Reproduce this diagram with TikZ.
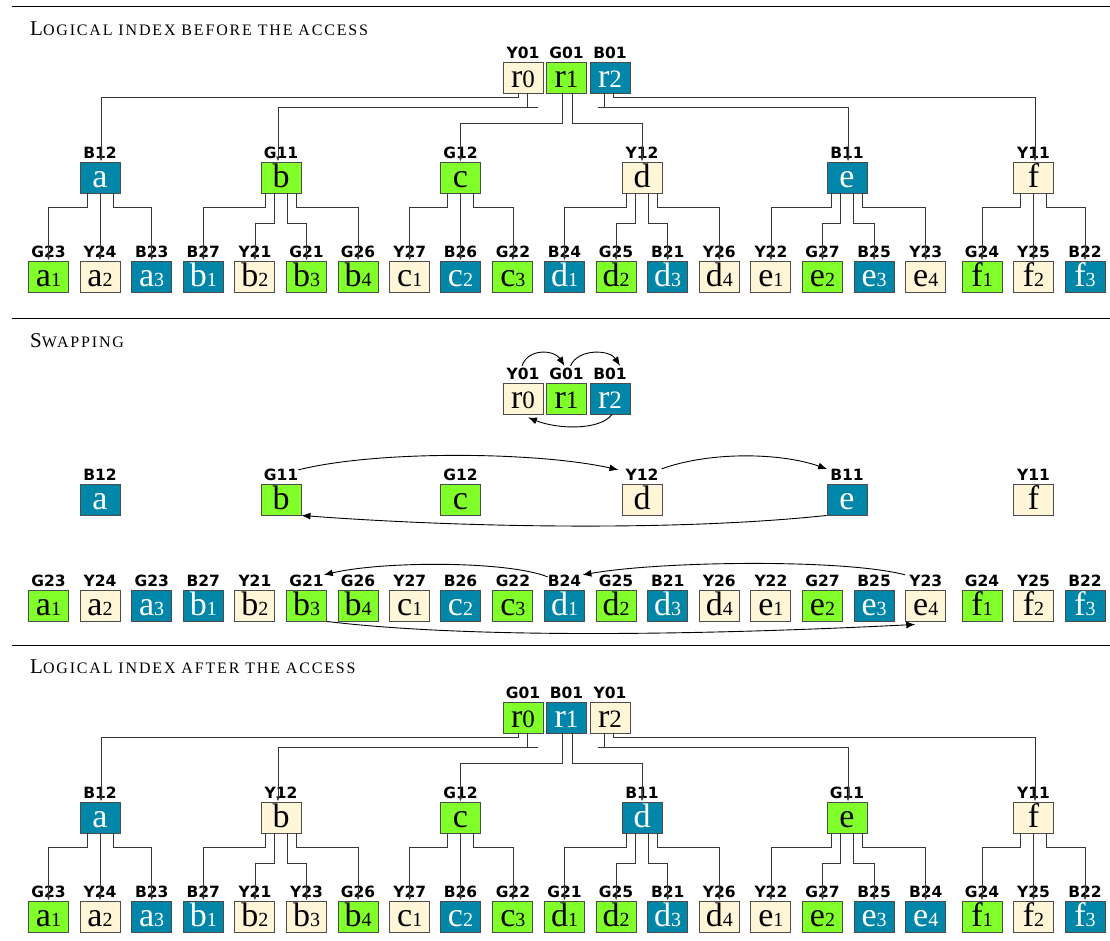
\documentclass[tikz,border=0pt]{standalone}
\usepackage{fontspec}
\setmainfont{Liberation Serif}
\newfontfamily\tagfont{DejaVu Sans}
\newfontfamily\headfont[LetterSpace=11.5]{Liberation Serif}
\usetikzlibrary{arrows.meta}

\definecolor{cellB}{RGB}{0,134,168}
\definecolor{cellG}{RGB}{128,255,42}
\definecolor{cellY}{RGB}{255,246,215}
\colorlet{txtB}{white}
\colorlet{txtG}{black}
\colorlet{txtY}{black}
\definecolor{edgegray}{RGB}{55,55,55}

\tikzset{
  cellbox/.style={draw=black!70, line width=0.9pt, minimum width=40pt, minimum height=31pt,
    inner sep=0pt, text height=25pt, text depth=6pt, font=\fontsize{34}{34}\selectfont},
  tag/.style={font=\tagfont\bfseries\fontsize{15.5}{15.5}\selectfont, inner sep=0pt, anchor=base},
  tree/.style={draw=edgegray, line width=0.8pt, -{Latex[length=5pt,width=4pt]}},
  treeplain/.style={draw=edgegray, line width=0.8pt},
  swap/.style={draw=black, line width=0.9pt, -{Latex[length=9pt,width=7pt]}},
  rule/.style={line width=1.2pt},
  title/.style={anchor=base west, inner sep=0pt},
}

% small digit after a letter (leaves) and root digit
\newcommand\sdig[1]{{\fontsize{20}{20}\selectfont #1}}
\newcommand\rdig[1]{{\fontsize{25}{25}\selectfont #1}}
% small capitals made from two sizes of spaced capitals
\newcommand\scap[2]{{\headfont\fontsize{21}{21}\selectfont #1\fontsize{16}{16}\selectfont #2}}

% one coloured cell with its tag above: name, position, colour key, text, tag
\newcommand\cell[5]{%
  \node[cellbox, fill=cell#3, text=txt#3] (#1) at (#2) {#4};
  \node[tag] (#1-t) at ([yshift=3pt]#1.north) {#5};}

% edges from the root block to the six inner nodes
\newcommand\rootedges[1]{%
  \draw[tree] ([xshift=-5pt]#1r0.south) -- ++(0,4) -| ([xshift=1pt]#1a.north);
  \draw[treeplain] ([xshift=4pt]#1r0.south) -- ++(0,14);
  \draw[tree] ([xshift=15pt,yshift=-14pt]#1r0.south) -| ([xshift=-3pt]#1b.north);
  \draw[tree] ([xshift=-4.5pt]#1r1.south) -- ++(0,30) -| (#1c.north);
  \draw[tree] ([xshift=5.5pt]#1r1.south) -- ++(0,30) -| (#1d.north);
  \draw[treeplain] ([xshift=-6pt]#1r2.south) -- ++(0,14);
  \draw[tree] ([xshift=-12pt,yshift=-14pt]#1r2.south) -| ([xshift=1pt]#1e.north);
  \draw[tree] ([xshift=3pt]#1r2.south) -- ++(0,4) -| ([xshift=1.5pt]#1f.north);}

% inner node with three leaves
\newcommand\threekids[2]{%
  \draw[tree] ([xshift=-13pt]#1#2.south) -- ++(0,14) -| (#1#21.north);
  \draw[tree] (#1#2.south) -- (#1#2.south |- #1#22.north);
  \draw[tree] ([xshift=13pt]#1#2.south) -- ++(0,14) -| (#1#23.north);}

% inner node with four leaves
\newcommand\fourkids[2]{%
  \draw[tree] ([xshift=-16pt]#1#2.south) -- ++(0,14) -| (#1#21.north);
  \draw[tree] ([xshift=-7pt]#1#2.south) -- ++(0,30) -| (#1#22.north);
  \draw[tree] ([xshift=6pt]#1#2.south) -- ++(0,30) -| (#1#23.north);
  \draw[tree] ([xshift=15pt]#1#2.south) -- ++(0,14) -| (#1#24.north);}

\begin{document}
\begin{tikzpicture}[x=1pt, y=-1pt]
\useasboundingbox (0,0) rectangle (1110,940);

% section rules and headings
\draw[rule] (12,6.5) -- (1110,6.5);
\draw[rule] (12,318.5) -- (1110,318.5);
\draw[rule] (12,645.5) -- (1110,645.5);
\node[title] (head1) at (30,35) {\scap{L}{OGICAL INDEX BEFORE THE ACCESS}};
\node[title] (head2) at (30,347) {\scap{S}{WAPPING}};
\node[title] (head3) at (30,673) {\scap{L}{OGICAL INDEX AFTER THE ACCESS}};

% ---------- index before the access ----------
\foreach \nm/\px/\col/\tg/\dg in {r0/523/Y/Y01/0, r1/566.5/G/G01/1, r2/610/B/B01/2}
  {\cell{p\nm}{\px,77.5}{\col}{r\rdig{\dg}}{\tg}}
\foreach \nm/\px/\col/\tg in {a/100/B/B12, b/281/G/G11, c/460.5/G/G12, d/642/Y/Y12, e/847/B/B11, f/1033.5/Y/Y11}
  {\cell{p\nm}{\px,177.5}{\col}{\nm}{\tg}}
\foreach \ltr/\dg/\px/\col/\tg in {
    a/1/48.5/G/G23, a/2/100/Y/Y24, a/3/151.7/B/B23,
    b/1/203.3/B/B27, b/2/254.9/Y/Y21, b/3/306.5/G/G21, b/4/358.1/G/G26,
    c/1/409.7/Y/Y27, c/2/460.5/B/B26, c/3/512.9/G/G22,
    d/1/564.5/B/B24, d/2/616.1/G/G25, d/3/667.7/B/B21, d/4/719.3/Y/Y26,
    e/1/770.9/Y/Y22, e/2/822.5/G/G27, e/3/874.1/B/B25, e/4/925.7/Y/Y23,
    f/1/982/G/G24, f/2/1033.5/Y/Y25, f/3/1085/B/B22}
  {\cell{p\ltr\dg}{\px,276.5}{\col}{\ltr\sdig{\dg}}{\tg}}
\rootedges{p}
\threekids{p}{a} \fourkids{p}{b} \threekids{p}{c}
\fourkids{p}{d} \fourkids{p}{e} \threekids{p}{f}

% ---------- swapping ----------
\foreach \nm/\px/\col/\tg/\dg in {r0/523/Y/Y01/0, r1/566.5/G/G01/1, r2/610/B/B01/2}
  {\cell{s\nm}{\px,398.5}{\col}{r\rdig{\dg}}{\tg}}
\foreach \nm/\px/\col/\tg in {a/100/B/B12, b/281/G/G11, c/460.5/G/G12, d/642/Y/Y12, e/847/B/B11, f/1033.5/Y/Y11}
  {\cell{s\nm}{\px,499.5}{\col}{\nm}{\tg}}
\foreach \ltr/\dg/\px/\col/\tg in {
    a/1/48.5/G/G23, a/2/100/Y/Y24, a/3/151.7/B/G23,
    b/1/203.3/B/B27, b/2/254.9/Y/Y21, b/3/306.5/G/G21, b/4/358.1/G/G26,
    c/1/409.7/Y/Y27, c/2/460.5/B/B26, c/3/512.9/G/G22,
    d/1/564.5/B/B24, d/2/616.1/G/G25, d/3/667.7/B/B21, d/4/719.3/Y/Y26,
    e/1/770.9/Y/Y22, e/2/822.5/G/G27, e/3/874.1/B/B25, e/4/925.7/Y/Y23,
    f/1/982/G/G24, f/2/1033.5/Y/Y25, f/3/1085/B/B22}
  {\cell{s\ltr\dg}{\px,605.5}{\col}{\ltr\sdig{\dg}}{\tg}}

% rotation among the roots
\draw[swap] ([xshift=-1pt,yshift=2pt]sr0-t.north) .. controls +(6,-18) and +(-10,-16) .. ([xshift=-2pt,yshift=2pt]sr1-t.north);
\draw[swap] ([xshift=4pt,yshift=2pt]sr1-t.north) .. controls +(8,-18) and +(-10,-16) .. ([xshift=10pt,yshift=2pt]sr2-t.north);
\draw[swap] ([xshift=2pt]sr2.south) .. controls +(-12,16) and +(30,12) .. ([xshift=5pt,yshift=-3pt]sr0.south);
% rotation among the inner nodes
\draw[swap] ([yshift=-1pt]sb-t.north east) .. controls +(80,-20) and +(-80,-18) .. ([xshift=-7pt,yshift=-1pt]sd-t.north west);
\draw[swap] ([xshift=3pt]sd-t.north east) .. controls +(50,-18) and +(-45,-16) .. ([xshift=-3pt]se-t.north west);
\draw[swap] (se.south west) .. controls +(-150,16) and +(160,12) .. (sb.south east);
% rotation among the leaves
\draw[swap] ([yshift=-2pt]sd1-t.north west) .. controls +(-40,-16) and +(60,-14) .. (sb3-t.north east);
\draw[swap] ([xshift=-4pt]se4-t.north west) .. controls +(-60,-16) and +(80,-14) .. ([xshift=1pt]sd1-t.north east);
\draw[swap] (sb3.south east) .. controls +(150,18) and +(-200,10) .. ([xshift=10pt,yshift=-3pt]se4.south west);

% ---------- index after the access ----------
\foreach \nm/\px/\col/\tg/\dg in {r0/523/G/G01/0, r1/566.5/B/B01/1, r2/610/Y/Y01/2}
  {\cell{q\nm}{\px,717.5}{\col}{r\rdig{\dg}}{\tg}}
\foreach \nm/\px/\col/\tg in {a/100/B/B12, b/281/Y/Y12, c/460.5/G/G12, d/642/B/B11, e/847/G/G11, f/1033.5/Y/Y11}
  {\cell{q\nm}{\px,817.5}{\col}{\nm}{\tg}}
\foreach \ltr/\dg/\px/\col/\tg in {
    a/1/48.5/G/G23, a/2/100/Y/Y24, a/3/151.7/B/B23,
    b/1/203.3/B/B27, b/2/254.9/Y/Y21, b/3/306.5/Y/Y23, b/4/358.1/G/G26,
    c/1/409.7/Y/Y27, c/2/460.5/B/B26, c/3/512.9/G/G22,
    d/1/564.5/G/G21, d/2/616.1/G/G25, d/3/667.7/B/B21, d/4/719.3/Y/Y26,
    e/1/770.9/Y/Y22, e/2/822.5/G/G27, e/3/874.1/B/B25, e/4/925.7/B/B24,
    f/1/982/G/G24, f/2/1033.5/Y/Y25, f/3/1085/B/B22}
  {\cell{q\ltr\dg}{\px,916.5}{\col}{\ltr\sdig{\dg}}{\tg}}
\rootedges{q}
\threekids{q}{a} \fourkids{q}{b} \threekids{q}{c}
\fourkids{q}{d} \fourkids{q}{e} \threekids{q}{f}

\end{tikzpicture}
\end{document}
